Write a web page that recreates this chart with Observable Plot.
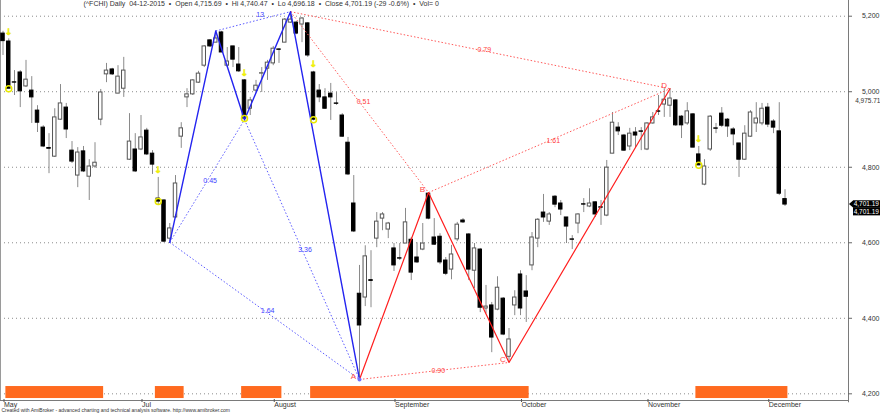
<!DOCTYPE html>
<html><head><meta charset="utf-8">
<script src="https://cdn.jsdelivr.net/npm/d3@7"></script>
<script src="https://cdn.jsdelivr.net/npm/@observablehq/plot@0.6"></script>
<style>
body{margin:0;background:#fff;}
#chart svg{display:block;}
</style></head><body><div id="chart"></div>
<script>
// ---- data (daily bars, index 0 = 28 May 2015 ... 136 = 4 Dec 2015) ----
const opens = [5154,5133,5025,5051,5014,5003,4950,4905,4851,4828,
4926,4958,4844,4778,4842,4775,4802,4926,5046,5059,
4995,5008,4820,4847,4847,4897,4836,4717,4712,4611,
4667,4881,4985,4993,5024,5069,5136,5130,5157,5069,
5120,5072,5030,4955,5003,5048,5061,5075,5112,5130,
5183,5183,5178,5181,5051,5003,4985,4995,4969,4937,
4865,4704,4465,4455,4501,4611,4664,4635,4585,4559,
4598,4608,4561,4582,4730,4614,4616,4553,4529,4609,
4659,4622,4526,4582,4426,4434,4423,4452,4298,4434,
4516,4471,4540,4611,4680,4656,4722,4704,4667,4609,
4651,4702,4696,4707,4694,4672,4836,4905,4884,4855,
4892,4895,4847,4916,4948,4966,4963,4977,4934,4916,
4940,4834,4754,4847,4903,4942,4926,4900,4863,4820,
4881,4916,4916,4958,4921,4895,4715.69];
const highs = [5160,5140,5056,5056,5083,5040,4963,4910,4889,4955,
5019,4969,4868,4852,4855,4820,4865,5006,5075,5062,
5069,5091,4942,4889,4937,4903,4844,4773,4714,4651,
4778,4918,5008,5032,5054,5122,5138,5160,5160,5117,
5120,5117,5032,4985,5030,5064,5083,5120,5114,5194,
5212,5186,5196,5183,5054,5019,5008,5022,4998,4942,
4879,4778,4540,4592,4579,4680,4680,4654,4598,4598,
4691,4614,4600,4651,4733,4664,4624,4561,4593,4654,
4664,4624,4598,4585,4487,4442,4510,4455,4373,4473,
4526,4513,4627,4664,4728,4680,4725,4712,4667,4619,
4677,4717,4743,4709,4712,4818,4945,4918,4887,4903,
4905,4905,4918,4945,4990,5008,5008,4979,4937,4971,
4942,4855,4820,4937,4916,4958,4929,4905,4863,4910,
4950,4971,4969,4969,4926,4971,4740.47];
const lows = [5096,5008,4990,4958,5011,4916,4892,4852,4783,4826,
4924,4876,4810,4746,4786,4712,4797,4910,5024,5043,
4995,4985,4818,4786,4844,4831,4781,4701,4600,4603,
4664,4850,4958,4990,5022,5064,5117,5130,5104,5064,
5064,5051,4926,4937,4998,4998,5030,5069,5075,5130,
5181,5151,5130,5091,4923,4971,4953,4924,4964,4879,
4778,4627,4240,4431,4428,4587,4632,4611,4524,4553,
4598,4500,4545,4579,4661,4593,4542,4513,4502,4603,
4651,4500,4479,4415,4412,4309,4420,4354,4283,4407,
4407,4389,4526,4587,4654,4646,4693,4672,4598,4582,
4624,4680,4693,4667,4646,4669,4836,4884,4842,4844,
4852,4844,4844,4914,4937,4932,4932,4908,4876,4911,
4852,4804,4751,4842,4889,4905,4879,4857,4773,4818,
4879,4892,4910,4905,4889,4725,4696.18];
const closes = [5134,5008,5024,5001,5032,4985,4918,4855,4849,4932,
4969,4900,4815,4839,4789,4802,4812,4998,5056,5046,
5040,5056,4868,4789,4879,4834,4807,4709,4603,4638,
4757,4903,4993,5030,5048,5120,5120,5141,5104,5080,
5085,5054,4929,4977,5016,5049,5077,5114,5111,5191,
5191,5154,5194,5096,4926,4985,4955,4985,4968,4881,
4781,4630,4381,4564,4499,4656,4675,4651,4540,4558,
4654,4521,4548,4598,4664,4595,4548,4518,4569,4648,
4654,4529,4585,4428,4431,4349,4481,4357,4344,4455,
4426,4457,4614,4661,4667,4675,4701,4688,4643,4608,
4675,4701,4704,4675,4693,4799,4918,4895,4844,4889,
4884,4894,4916,4932,4947,4979,4982,4911,4911,4948,
4852,4805,4802,4934,4902,4910,4908,4887,4820,4889,
4945,4929,4955,4913,4905,4730,4701.19];

const monthIdx = [0,24,47,68,90,112,133];
const monthLabels = ["May","Jul","August","September","October","November","December"];
const yTicks = [4200,4400,4600,4800,5000,5200];

const ribbonStart = [1,27,42,54,121];
const ribbonEnd   = [17,31,48,91,136];

const signalIdx = [1,27,42,54,121];

const pointNames = ["P1","P2","P3","P4","A","B","C","D"];
const pointIdx   = [29,37,42,50,62,74,88,116];
const pointPrice = [4601,5161,4926,5212,4238,4733,4283,5008];

const bluePathNames = ["P1","P2","P3","P4","A"];
const redPathNames  = ["A","B","C","D"];
const blueRatioFrom = ["P1","P2","P3","P1"];
const blueRatioTo   = ["P3","P4","A","A"];
const blueRatioText = ["0.45","13","3.36","1.64"];
const redRatioFrom  = ["P4","P4","B","A"];
const redRatioTo    = ["B","D","D","C"];
const redRatioText  = ["0.51","0.79","1.61","0.90"];
const letterNames   = ["A","B","C","D"];

const header = "(^FCHI) Daily  04-12-2015  \u2022  Open 4,715.69  \u2022  Hi 4,740.47  \u2022  Lo 4,696.18  \u2022  Close 4,701.19 (-29 -0.6%)  \u2022  Vol= 0";
const footer = "Created with AmiBroker - advanced charting and technical analysis software. http://www.amibroker.com";
const extraLevel = 4975.71;
const lastClose = 4701.19;

// ---- build tables ----
const bars = opens.map((o,i)=>({i, open:o, high:highs[i], low:lows[i], close:closes[i]}));
const upBars = bars.filter(d=>d.close>=d.open);
const dnBars = bars.filter(d=>d.close<d.open);
const P = {}; pointNames.forEach((n,k)=>P[n]={name:n, i:pointIdx[k], p:pointPrice[k]});
const bluePath = bluePathNames.map(n=>P[n]);
const redPath = redPathNames.map(n=>P[n]);
const mkRatios = (f,t,txt)=>f.map((n,k)=>({x1:P[n].i, y1:P[n].p, x2:P[t[k]].i, y2:P[t[k]].p, label:txt[k]}));
const blueRatios = mkRatios(blueRatioFrom, blueRatioTo, blueRatioText);
const redRatios = mkRatios(redRatioFrom, redRatioTo, redRatioText);
const ribbon = ribbonStart.map((s,k)=>({s, e:ribbonEnd[k]}));
const signals = signalIdx.map(i=>bars[i]);
const letters = letterNames.map(n=>P[n]);

const xMin = -0.435, xMax = 147.04;
const yMin = 4182.3, yMax = 5241.6;
const hw = 0.3;

const chart = Plot.plot({
  width: 880, height: 415,
  marginLeft: 0, marginRight: 32, marginTop: 0, marginBottom: 15,
  style: {fontFamily: "'Liberation Sans', Arial, sans-serif", fontSize: "7px", background: "#fff", overflow: "visible", color: "#222"},
  x: {domain: [xMin, xMax], axis: null},
  y: {domain: [yMin, yMax], axis: null},
  marks: [
    Plot.ruleY(yTicks, {stroke: "#8c8c8c", strokeDasharray: "1,3"}),
    Plot.rect(ribbon, {x1: d=>d.s-0.5, x2: d=>d.e+0.5, y1: 4187.5, y2: 4219.3, fill: "#ff6a1f"}),
    // frame lines
    Plot.ruleX([xMin], {stroke: "#9a9a9a"}),
    Plot.ruleX([xMax], {stroke: "#7a7a7a", y1: yMin - 6, y2: yMax}),
    Plot.ruleY([yMin], {stroke: "#7a7a7a"}),
    // right axis ticks + labels
    Plot.ruleY(yTicks, {x1: xMax, x2: xMax + 0.7, stroke: "#666"}),
    Plot.text(yTicks, {x: xMax, y: d=>d, text: d=>d3.format(",")(d), textAnchor: "end", dx: 31, fill: "#333"}),
    Plot.text([extraLevel], {x: xMax, y: d=>d, text: d=>d3.format(",.2f")(d), textAnchor: "end", dx: 32, fill: "#333", fontSize: 6.5}),
    // month axis
    Plot.axisX(monthIdx, {tickFormat: d=>monthLabels[monthIdx.indexOf(d)], textAnchor: "start", tickSize: 3, tickPadding: 0, dx: 1, dy: -1, stroke: "#555", fill: "#333", fontSize: 7}),
    // candles
    Plot.ruleX(bars, {x: "i", y1: "low", y2: "high", stroke: "#8a8a8a", strokeWidth: 1}),
    Plot.rect(upBars, {x1: d=>d.i-hw, x2: d=>d.i+hw, y1: "open", y2: "close", fill: "#fff", stroke: "#555"}),
    Plot.rect(dnBars, {x1: d=>d.i-hw, x2: d=>d.i+hw, y1: "open", y2: "close", fill: "#000", stroke: "#000"}),
    // ratio (dotted) lines
    Plot.link(blueRatios, {x1:"x1", y1:"y1", x2:"x2", y2:"y2", stroke: "#5a5aff", strokeDasharray: "1.5,2"}),
    Plot.link(redRatios, {x1:"x1", y1:"y1", x2:"x2", y2:"y2", stroke: "#ff5a5a", strokeDasharray: "1.5,2"}),
    // pattern legs
    Plot.line(bluePath, {x: "i", y: "p", stroke: "#2424f0", strokeWidth: 1.4}),
    Plot.line(redPath, {x: "i", y: "p", stroke: "#ff1e1e", strokeWidth: 1.2}),
    // ratio labels
    Plot.text(blueRatios.filter(d=>d.label!=="13"), {x: d=>(d.x1+d.x2)/2, y: d=>(d.y1+d.y2)/2, text: "label", fill: "#4040ff", dx: 3}),
    Plot.text(blueRatios.filter(d=>d.label==="13"), {x: d=>(d.x1+d.x2)/2, y: d=>(d.y1+d.y2)/2, text: "label", fill: "#4040ff", dx: 7, dy: -7}),
    Plot.text(redRatios, {x: d=>(d.x1+d.x2)/2, y: d=>(d.y1+d.y2)/2, text: "label", fill: "#ff3c3c", dx: 4}),
    // point letters
    Plot.dot([P.A], {x: "i", y: "p", r: 2, fill: "#7070ff"}),
    Plot.text(letters, {x: "i", y: "p", text: "name", fill: "#ff4848", dx: -6, dy: -3, fontSize: 8}),
    // signals
    Plot.dot(signals, {x: "i", y: "close", r: 3, stroke: "#e8e800", strokeWidth: 1.5, fill: "none"}),
    Plot.text(signals, {x: "i", y: "high", text: ()=>"\u2193", dy: -7, fill: "#f2f200", stroke: "#e6e600", strokeWidth: 0.5, fontWeight: "bold", fontSize: 9, fontFamily: "DejaVu Sans"}),
    // header / footer
    Plot.text([header], {frameAnchor: "top-left", dx: 83, dy: 1, lineAnchor: "top", fill: "#333", fontSize: 7}),
    Plot.text([footer], {frameAnchor: "bottom-left", dx: 1, dy: 11.5, fill: "#333", fontSize: 5})
  ]
});

document.getElementById("chart").appendChild(chart);

// last-price boxes on the right axis, positioned with Plot's y scale
const svg = d3.select(chart);
const yS = chart.scale("y"), xS = chart.scale("x");
const yc = yS.apply(lastClose), xa = xS.apply(xMax);
const g = svg.append("g").attr("font-family", "'Liberation Sans', Arial, sans-serif").attr("font-size", 6.5);
g.append("path").attr("d", `M${xa+1},${yc} L${xa+5},${yc-3.5} L${xa+5},${yc+3.5} Z`).attr("fill", "#000");
[0, 7.5].forEach(off=>{
  g.append("rect").attr("x", xa+5).attr("y", yc-3.8+off).attr("width", 880-(xa+5)).attr("height", 7.6).attr("fill", "#000");
  g.append("text").attr("x", 879).attr("y", yc+off).attr("dy", "0.35em").attr("text-anchor", "end").attr("fill", "#fff").text(d3.format(",.2f")(lastClose));
});
</script>
</body></html>
